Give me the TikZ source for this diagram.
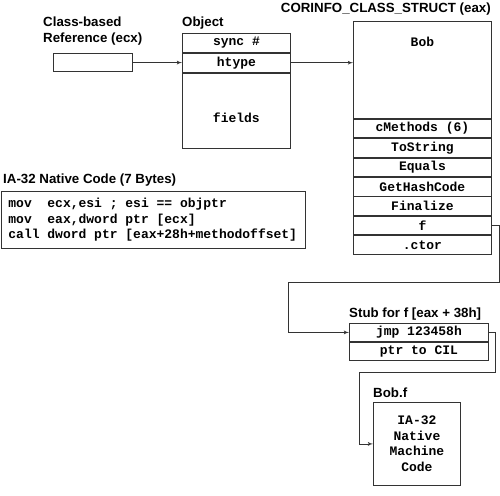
\documentclass[tikz,border=0pt]{standalone}
\usepackage{fontspec}
\setmainfont{Liberation Sans}
\setmonofont{Liberation Mono}
\usetikzlibrary{positioning}
\usetikzlibrary{shapes,arrows}
\newcommand{\cellfont}{\fontsize{13}{15.5}\selectfont\ttfamily\bfseries}
\newcommand{\cellsp}{\hspace*{0.6em}}
\tikzstyle{cell} = [rectangle, draw=black!80, line width=0.8pt, inner sep=0pt,
                anchor=north west, font=\cellfont]
\tikzstyle{title} = [inner sep=0pt, font=\fontsize{13.3}{16}\selectfont\bfseries]
\tikzstyle{line} = [draw, black!80, line width=0.8pt, -latex']

\begin{document}
\begin{tikzpicture}[x=1pt,y=-1pt]
            \useasboundingbox (0,0) rectangle (500,495);
            % reference and object
            \node[cell, minimum width=79pt, minimum height=18pt](ref) at (53,53) {};
            \node[title, anchor=base west, align=left](reflabel) at (43,43) {Class-based\\Reference (ecx)};
            \node[cell, minimum width=108pt, minimum height=19pt](sync) at (182,33) {sync\cellsp\#};
            \node[cell, minimum width=108pt, minimum height=19pt](htype) at (sync.south west) {htype};
            \node[cell, minimum width=108pt, minimum height=75pt](fields) at (htype.south west) {};
            \node[cell, draw=none, anchor=center](fieldsname) at ([yshift=-7pt]fields.center) {fields};
            \node[title, anchor=base west](objlabel) at (182,27) {Object};
            % class struct
            \node[cell, minimum width=138pt, minimum height=97pt](bob) at (353,21) {};
            \node[cell, draw=none, anchor=north](bobname) at ([yshift=-16pt]bob.north) {Bob};
            \node[cell, minimum width=138pt, minimum height=18.6pt](cmethods) at (bob.south west) {cMethods\cellsp(6)};
            \node[cell, minimum width=138pt, minimum height=18.6pt](tostring) at (cmethods.south west) {ToString};
            \node[cell, minimum width=138pt, minimum height=18.6pt](equals) at (tostring.south west) {Equals};
            \node[cell, minimum width=138pt, minimum height=18.6pt](gethash) at (equals.south west) {GetHashCode};
            \node[cell, minimum width=138pt, minimum height=18.6pt](finalize) at (gethash.south west) {Finalize};
            \node[cell, minimum width=138pt, minimum height=18.6pt](fslot) at (finalize.south west) {f};
            \node[cell, minimum width=138pt, minimum height=18.6pt](ctor) at (fslot.south west) {.ctor};
            \node[title, anchor=base east](classlabel) at (491,13) {CORINFO\_CLASS\_STRUCT (eax)};
            % native code
            \node[cell, minimum width=304pt, minimum height=57pt, align=left, text width=290pt,
                  inner xsep=7pt](code) at (1,191)
                  {mov\cellsp\cellsp ecx,esi\cellsp;\cellsp esi\cellsp==\cellsp objptr\\
                   mov\cellsp\cellsp eax,dword\cellsp ptr\cellsp[ecx]\\
                   call\cellsp dword\cellsp ptr\cellsp[eax+28h+methodoffset]};
            \node[title, anchor=base west](codelabel) at (3,183) {IA-32 Native Code (7 Bytes)};
            % stub and method body
            \node[cell, minimum width=139pt, minimum height=18pt](jmp) at (349,323) {jmp\cellsp 123458h};
            \node[cell, minimum width=139pt, minimum height=18pt](cilptr) at (jmp.south west) {ptr\cellsp to\cellsp CIL};
            \node[title, anchor=base west](stublabel) at (349,317) {Stub for f [eax + 38h]};
            \node[cell, minimum width=87pt, minimum height=83pt, align=center](bobf) at (373,402)
                  {IA-32\\Native\\Machine\\Code};
            \node[title, anchor=base west](bobflabel) at (373,397) {Bob.f};
            \coordinate (fturn) at (499,282);
            \coordinate (fback) at (288,282);
            \coordinate (jturn) at (495,372);
            \coordinate (jback) at (359,372);
            \path[line] (ref) -- (htype);
            \path[line] (htype.east) -- (htype.east -| bob.west);
            \path[line] (fslot.east) -| (fturn) -- (fback) |- (jmp.west);
            \path[line] (jmp.east) -| (jturn) -- (jback) |- (bobf.west);
        \end{tikzpicture}
\end{document}
